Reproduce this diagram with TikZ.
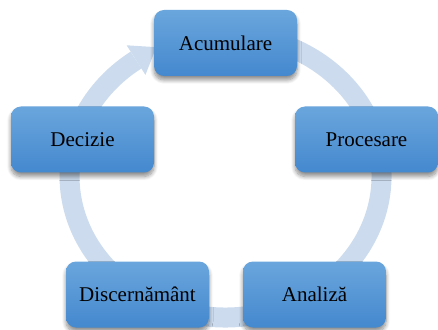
\documentclass[tikz,border=0pt]{standalone}
\usepackage{fontspec}
\setmainfont{Liberation Serif}
\usetikzlibrary{shadows.blur,calc}
\definecolor{ringblue}{RGB}{204,220,238}
\definecolor{boxtop}{RGB}{106,166,221}
\definecolor{boxbot}{RGB}{68,136,206}
\begin{document}
\begin{tikzpicture}[x=1pt,y=1pt,
  stagebox/.style={rounded corners=10pt, minimum width=143pt, minimum height=66pt,
    top color=boxtop, bottom color=boxbot, draw=none,
    font=\fontsize{21}{25}\selectfont, text=black,
    blur shadow={shadow xshift=0pt, shadow yshift=-4pt, shadow blur radius=4pt, shadow opacity=45, shadow blur steps=8}},
  ring/.style={draw=ringblue, line width=20pt}]
\useasboundingbox (0,0) rectangle (438,329);
\coordinate (c) at (225.5,153);
% ring
\draw[ring] ($(c)+(100:156 and 141.5)$) arc[start angle=100, end angle=-235, x radius=156, y radius=141.5];
\coordinate (hb) at ($(c)+(125:156 and 141.5)$);
\coordinate (h1) at ($(hb)+(-9.4,14.8)$);
\coordinate (h2) at ($(hb)+(9.4,-14.8)$);
\coordinate (tip) at ($(hb)+(20.3,12.9)$);
\fill[ringblue] (h1) -- (tip) -- (h2) -- cycle;
% boxes
\node[stagebox] (acc) at (225.5,286) {Acumulare};
\node[stagebox] (proc) at (366.5,189.5) {Procesare};
\node[stagebox] (anal) at (314.5,34.5) {Analiză};
\node[stagebox] (disc) at (137.5,34.5) {Discernământ};
\node[stagebox] (dec) at (82.5,189.5) {Decizie};
\end{tikzpicture}
\end{document}
